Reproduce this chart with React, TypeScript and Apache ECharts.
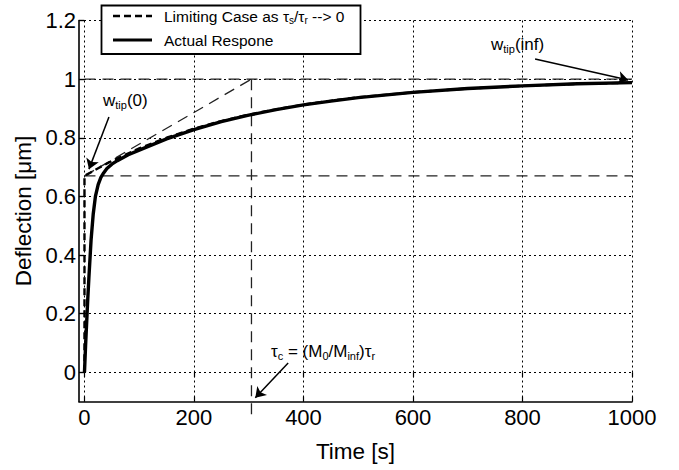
import React, { useEffect, useRef } from "react";
import * as echarts from "echarts";

// ---- data ----
const timeActual = [0, 2, 4, 6, 8, 12, 16, 20, 25, 30, 35, 41, 50, 60, 80, 100, 150, 200, 250, 300, 350, 400, 450, 500, 600, 700, 800, 900, 1000];
const deflActual = [0, 0.09, 0.17, 0.25, 0.32, 0.45, 0.54, 0.6, 0.64, 0.665, 0.68, 0.695, 0.71, 0.722, 0.742, 0.758, 0.796, 0.828, 0.855, 0.877, 0.896, 0.912, 0.925, 0.937, 0.955, 0.968, 0.977, 0.984, 0.988];
const timeLimit = [0, 0, 25, 50, 100, 150, 200, 250, 300, 350, 400, 450, 500, 600, 700, 800, 900, 1000];
const deflLimit = [0, 0.67, 0.696, 0.721, 0.764, 0.8, 0.831, 0.857, 0.879, 0.897, 0.913, 0.926, 0.938, 0.955, 0.968, 0.977, 0.984, 0.988];

const xTicks = [0, 200, 400, 600, 800, 1000];
const yTicks = [0, 0.2, 0.4, 0.6, 0.8, 1, 1.2];

// reference construction lines
const w0Line = [[0, 0.67], [1000, 0.67]];
const wInfLine = [[0, 1], [1000, 1]];
const tangentLine = [[0, 0.67], [305, 1]];
const tauCLine = [[305, 1], [305, -0.157]];

// annotation arrows [start, end]
const arrowW0 = [[44.7, 0.871], [8.2, 0.693]];
const arrowWInf = [[823, 1.069], [993, 0.997]];
const arrowTauC = [[372, 0.032], [312, -0.087]];

const FONT = "'Liberation Sans', Arial, Helvetica, sans-serif";

export default function App() {
  const ref = useRef<HTMLDivElement>(null);
  useEffect(() => {
    if (!ref.current) return;
    const chart = echarts.init(ref.current, undefined, { renderer: "svg" });
    const gridDash = { color: "#000", width: 1, type: [2, 3] as any };
    const refStyle = { color: "#222", width: 1.3, type: [11, 7] as any };
    const subRich = {
      s: { fontSize: 11, fontFamily: FONT, verticalAlign: "bottom", lineHeight: 11, fill: "#000" },
    };
    const mk = (pair: number[][]) => [{ coord: pair[0] }, { coord: pair[1] }];
    const tickStyle = { color: "#000", width: 1.2 };
    chart.setOption({
      animation: false,
      backgroundColor: "#fff",
      grid: { left: 79, right: 47, top: 20.5, bottom: 68.4 },
      xAxis: [
        {
          type: "value",
          min: -10,
          max: 1000,
          name: "Time [s]",
          nameLocation: "middle",
          nameGap: 38,
          nameTextStyle: { fontSize: 22.5, fontFamily: FONT, color: "#000" },
          axisLine: { show: true, onZero: false, lineStyle: { color: "#000", width: 1.6 } },
          axisTick: { show: true, inside: true, length: 5, lineStyle: tickStyle, customValues: xTicks },
          axisLabel: { fontSize: 22, fontFamily: FONT, color: "#000", margin: 5, customValues: xTicks, formatter: (v: number) => String(v) },
          splitLine: { show: true, lineStyle: gridDash },
        },
        {
          type: "value",
          position: "top",
          min: -10,
          max: 1000,
          axisLine: { show: false },
          axisTick: { show: true, inside: true, length: 5, lineStyle: tickStyle, customValues: xTicks },
          axisLabel: { show: false },
          splitLine: { show: false },
        },
      ],
      yAxis: [
        {
          type: "value",
          min: -0.1,
          max: 1.2,
          name: "Deflection [μm]",
          nameLocation: "middle",
          nameGap: 43,
          nameTextStyle: { fontSize: 22.5, fontFamily: FONT, color: "#000" },
          axisLine: { show: true, onZero: false, lineStyle: { color: "#000", width: 1.6 } },
          axisTick: { show: true, inside: true, length: 5, lineStyle: tickStyle, customValues: yTicks },
          axisLabel: { fontSize: 22, fontFamily: FONT, color: "#000", margin: 3, customValues: yTicks, formatter: (v: number) => String(Math.round(v * 10) / 10) },
          splitLine: { show: true, lineStyle: gridDash },
        },
        {
          type: "value",
          position: "right",
          min: -0.1,
          max: 1.2,
          axisLine: { show: false },
          axisTick: { show: true, inside: true, length: 5, lineStyle: tickStyle, customValues: yTicks },
          axisLabel: { show: false },
          splitLine: { show: false },
        },
      ],
      series: [
        { type: "line", data: w0Line, symbol: "none", lineStyle: refStyle, silent: true },
        { type: "line", data: wInfLine, symbol: "none", lineStyle: refStyle, silent: true },
        { type: "line", data: tangentLine, symbol: "none", lineStyle: refStyle, silent: true },
        { type: "line", data: tauCLine, symbol: "none", lineStyle: refStyle, silent: true, clip: false },
        {
          name: "Actual Respone",
          type: "line",
          data: timeActual.map((t, i) => [t, deflActual[i]]),
          symbol: "none",
          lineStyle: { color: "#000", width: 3.4, type: "solid" },
        },
        {
          name: "Limiting Case",
          type: "line",
          data: timeLimit.map((t, i) => [t, deflLimit[i]]),
          symbol: "none",
          lineStyle: { color: "#000", width: 2.4, type: [7, 4] as any },
          markLine: {
            silent: true,
            symbol: ["none", "arrow"],
            symbolSize: 10,
            label: { show: false },
            lineStyle: { color: "#000", width: 1.5, type: "solid" },
            data: [mk(arrowW0), mk(arrowWInf), mk(arrowTauC)],
          },
        },
      ],
      graphic: [
        { type: "rect", shape: { x: 101.5, y: 5.5, width: 259, height: 48.5 }, style: { fill: "#fff", stroke: "#000", lineWidth: 1.8 }, z: 100 },
        { type: "line", shape: { x1: 113, y1: 16, x2: 152, y2: 16 }, style: { stroke: "#000", lineWidth: 2.6, lineDash: [7, 4] }, z: 101 },
        { type: "line", shape: { x1: 113, y1: 40, x2: 152, y2: 40 }, style: { stroke: "#000", lineWidth: 2.8 }, z: 101 },
        {
          type: "text", z: 101,
          style: { x: 164, y: 7, text: "Limiting Case as τ{s|s}/τ{s|r} --> 0", fontSize: 15.5, fontFamily: FONT, fill: "#000", lineHeight: 18, rich: { s: { fontSize: 10, fontFamily: FONT, verticalAlign: "bottom", lineHeight: 10, fill: "#000" } }, verticalAlign: "top" },
        },
        {
          type: "text", z: 101,
          style: { x: 164, y: 31, text: "Actual Respone", fontSize: 15.5, fontFamily: FONT, fill: "#000", lineHeight: 18, verticalAlign: "top" },
        },
        {
          type: "text", z: 101,
          style: { x: 103, y: 90, text: "w{s|tip}(0)", fontSize: 17, fontFamily: FONT, fill: "#000", lineHeight: 20, rich: subRich, verticalAlign: "top" },
        },
        {
          type: "text", z: 101,
          style: { x: 491, y: 34, text: "w{s|tip}(inf)", fontSize: 17, fontFamily: FONT, fill: "#000", lineHeight: 20, rich: subRich, verticalAlign: "top" },
        },
        {
          type: "text", z: 101,
          style: { x: 271, y: 341, text: "τ{s|c} = (M{s|0}/M{s|inf})τ{s|r}", fontSize: 17, fontFamily: FONT, fill: "#000", lineHeight: 20, rich: subRich, verticalAlign: "top" },
        },
      ],
    });
    return () => chart.dispose();
  }, []);
  return <div ref={ref} style={{ position: "fixed", left: 0, top: 0, width: 679, height: 470, background: "#fff" }} />;
}
